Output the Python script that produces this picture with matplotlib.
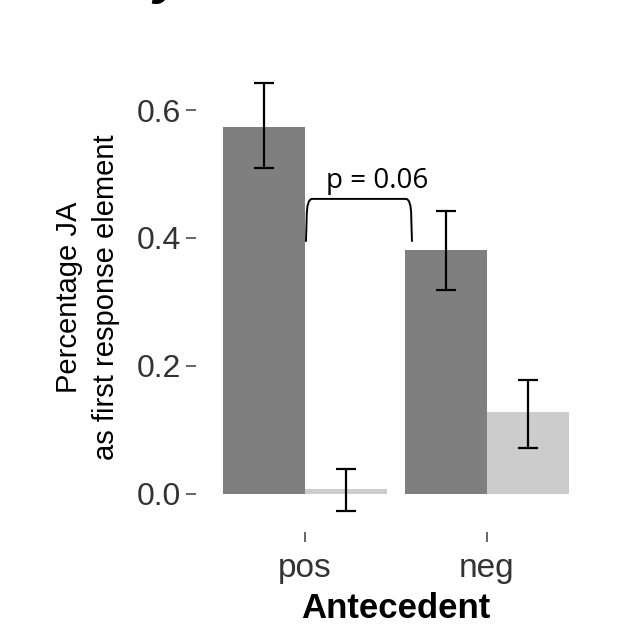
import matplotlib
matplotlib.use("Agg")
import matplotlib.pyplot as plt
import numpy as np
from matplotlib.path import Path
from matplotlib.patches import PathPatch

# data
antecedent = ["pos", "neg"]
ja_first = [0.574, 0.381]
ja_low = [0.510, 0.318]
ja_high = [0.642, 0.442]
other_first = [0.008, 0.127]
other_low = [-0.027, 0.072]
other_high = [0.039, 0.178]
p_label = "p = 0.06"

plt.rcParams['font.family'] = ['Liberation Sans', 'DejaVu Sans']

fig = plt.figure(figsize=(6.19, 6.27), dpi=100)
ax = fig.add_axes([0.3166, 0.1515, 0.6462, 0.7495])

x = np.arange(1, len(antecedent) + 1)
w = 0.45
ax.bar(x - w / 2, ja_first, width=w, color='#7F7F7F', linewidth=0)
ax.bar(x + w / 2, other_first, width=w, color='#CCCCCC', linewidth=0)

for xs, m, lo, hi in [(x - w / 2, ja_first, ja_low, ja_high),
                      (x + w / 2, other_first, other_low, other_high)]:
    m = np.array(m)
    err = [m - np.array(lo), np.array(hi) - m]
    ax.errorbar(xs, m, yerr=err, fmt='none', ecolor='black',
                elinewidth=1.6, capsize=7, capthick=1.6)

# bracket between pos and neg
x0, x1 = 1.005, 1.588
y0, y1 = 0.394, 0.461
rx, ry = 0.035, 0.028
verts = [(x0, y0), (x0 + 0.004, y1 - ry), (x0 + 0.004, y1), (x0 + rx, y1),
         (x1 - rx, y1), (x1 - 0.004, y1), (x1 - 0.004, y1 - ry), (x1, y0)]
codes = [Path.MOVETO, Path.LINETO, Path.CURVE3, Path.CURVE3,
         Path.LINETO, Path.CURVE3, Path.CURVE3, Path.LINETO]
ax.add_patch(PathPatch(Path(verts, codes), fill=False, edgecolor='black', linewidth=1.4))
ax.text(1.396, 0.478, p_label, ha='center', va='baseline', fontsize=20,
        family=['Open Sans', 'DejaVu Sans'], color='black')

ax.set_xlim(0.4, 2.6)
ax.set_ylim(-0.06, 0.675)
ax.set_xticks(x)
ax.set_xticklabels(antecedent, fontsize=24)
ax.set_yticks([0.0, 0.2, 0.4, 0.6])
ax.set_yticklabels(['0.0', '0.2', '0.4', '0.6'], fontsize=23)
ax.tick_params(axis='both', colors='#4D4D4D', labelcolor='#333333',
               length=7, width=1.2)
ax.tick_params(axis='y', pad=4)
ax.tick_params(axis='x', pad=8)
for s in ax.spines.values():
    s.set_visible(False)

ax.set_xlabel("Antecedent", fontsize=25, fontweight='bold', labelpad=6)
ax.set_ylabel("Percentage JA\nas first response element", fontsize=21,
              linespacing=1.4, labelpad=12)

# cut-off title remnant at the very top
fig.text(0.247, 1.012, "y", fontsize=40, fontweight='bold', style='italic',
         ha='left', va='baseline')

fig.savefig("out.png", dpi=100)
